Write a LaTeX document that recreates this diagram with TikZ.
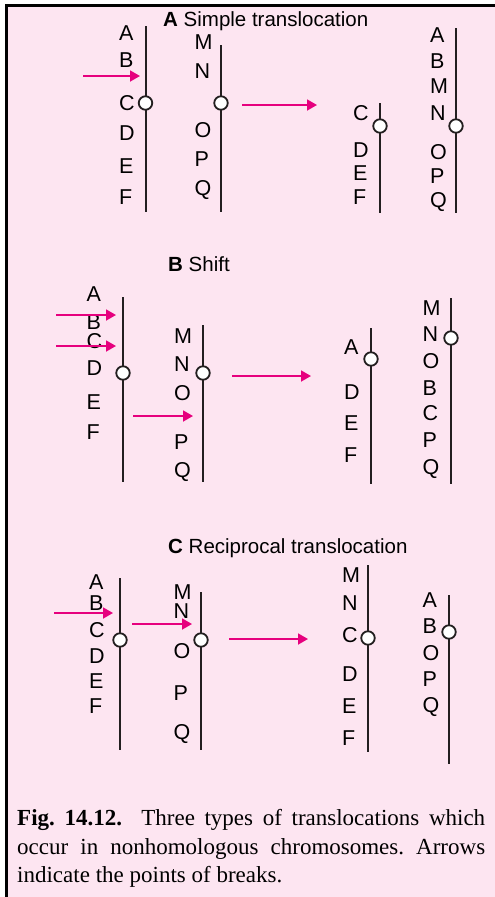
\documentclass[tikz,border=0pt]{standalone}
\usepackage{fontspec}
\setmainfont{Liberation Serif}
\setsansfont{Liberation Sans}
\usetikzlibrary{arrows.meta}

\definecolor{panelpink}{RGB}{253,229,241}
\definecolor{breakpink}{RGB}{230,0,126}
\definecolor{chromgray}{RGB}{35,31,32}

\begin{document}
\begin{tikzpicture}[x=1pt, y=-1pt,
        chrom/.style={draw=chromgray, line width=2pt},
        cen/.style={circle, draw=chromgray, line width=1.8pt, fill=white,
                    inner sep=0pt, minimum size=13.5pt},
        gene/.style={anchor=west, inner sep=0pt, text height=15pt, text depth=0pt,
                     font=\sffamily\fontsize{21.5}{22}\selectfont},
        brk/.style={draw=breakpink, line width=1.8pt,
                    -{Triangle[length=10pt, width=11pt]}},
        title/.style={anchor=base west, inner sep=0pt,
                      font=\sffamily\fontsize{20.5}{22}\selectfont}]
      \useasboundingbox (0,0) rectangle (495,897);
      \clip (0,0) rectangle (495,897);
      \fill[panelpink] (6.7,5.7) rectangle (505,905);
      \draw[black, line width=3.2pt] (6.7,905) -- (6.7,5.7) -- (505,5.7);

      \node[title] (ta) at (163,26.7) {\textbf{A} Simple translocation};
      \node[title] (tb) at (168,271.7) {\textbf{B} Shift};
      \node[title] (tc) at (168,553) {\textbf{C} Reciprocal translocation};

      \foreach \n/\x/\t/\b/\c in {a1/145.5/26/212/103, a2/221/45/212/103,
                                  a3/380/103/213/126, a4/456/28/213/126,
                                  b1/123/297/482/373, b2/203/325/482/373,
                                  b3/371/328/484/359, b4/451/298/484/338,
                                  c1/120/578/750/640, c2/201/592/750/640,
                                  c3/368/565/752/638, c4/449/595/764/632} {
        \coordinate (\n-top) at (\x,\t);
        \coordinate (\n-bot) at (\x,\b);
        \draw[chrom] (\n-top) -- (\n-bot);
        \node[cen] (\n-cen) at (\x,\c) {};
      }

      \foreach \l/\y in {A/33, B/60, C/103, D/133, E/166, F/197}
        \node[gene] (a1-\l) at (119,\y) {\l};
      \foreach \l/\y in {M/42, N/71, O/130, P/159, Q/188}
        \node[gene] (a2-\l) at (194.5,\y) {\l};
      \foreach \l/\y in {C/113, D/150, E/173, F/197}
        \node[gene] (a3-\l) at (353,\y) {\l};
      \foreach \l/\y in {A/35, B/61, M/86, N/113, O/152, P/176, Q/200}
        \node[gene] (a4-\l) at (430,\y) {\l};

      \foreach \l/\y in {A/294, B/322, C/341, D/368, E/402, F/432}
        \node[gene] (b1-\l) at (86.3,\y) {\l};
      \foreach \l/\y in {M/336, N/364, O/393, P/442, Q/470}
        \node[gene] (b2-\l) at (174,\y) {\l};
      \foreach \l/\y in {A/347, D/392, E/423, F/455}
        \node[gene] (b3-\l) at (344,\y) {\l};
      \foreach \l/\y in {M/308, N/334, O/361, B/388, C/413, P/440, Q/467}
        \node[gene] (b4-\l) at (422.5,\y) {\l};

      \foreach \l/\y in {A/582, B/603, C/630, D/656, E/681, F/706}
        \node[gene] (c1-\l) at (89,\y) {\l};
      \foreach \l/\y in {M/592, N/611, O/651, P/693, Q/732}
        \node[gene] (c2-\l) at (173.5,\y) {\l};
      \foreach \l/\y in {M/575, N/603, C/635, D/674, E/706, F/738}
        \node[gene] (c3-\l) at (342,\y) {\l};
      \foreach \l/\y in {A/600, B/626, O/653, P/679, Q/705}
        \node[gene] (c4-\l) at (422.5,\y) {\l};

      \foreach \n/\xa/\xb/\y in {a-brk/83/140/76, a-go/242/317/105,
                                 b-brk1/56/116/315, b-brk2/56/116/346,
                                 b-brk3/133/193/416, b-go/232/311/376,
                                 c-brk1/54/113/613, c-brk2/132/192/624,
                                 c-go/229/308/639} {
        \coordinate (\n-from) at (\xa,\y);
        \coordinate (\n-to) at (\xb,\y);
        \draw[brk] (\n-from) -- (\n-to);
      }

      \node[anchor=north west, inner sep=0pt, text width=468pt, align=justify,
            font=\fontsize{23}{28.3}\selectfont\frenchspacing] (cap) at (17,809.5)
           {\textbf{Fig. 14.12.}\ \ Three types of translocations which\linebreak
            occur in nonhomologous chromosomes. Arrows\linebreak
            indicate the points of breaks.};
    \end{tikzpicture}
\end{document}
